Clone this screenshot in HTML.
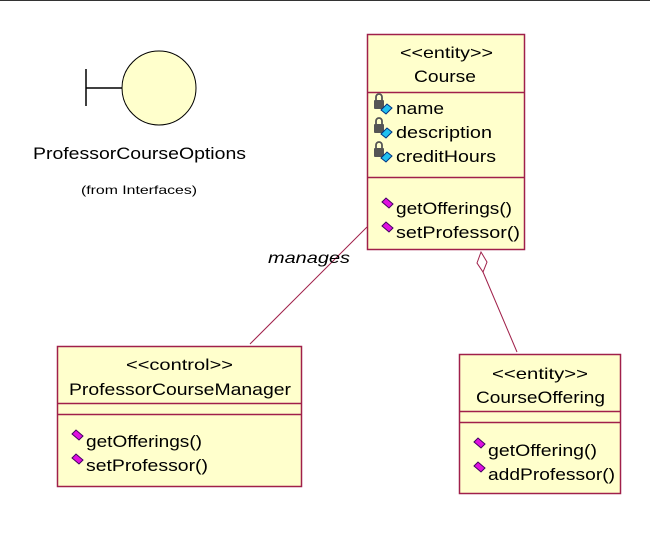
<!DOCTYPE html>
<html><head><style>body{margin:0;background:#fff}svg{display:block}text{font-family:"Liberation Sans",sans-serif;fill:#000}</style></head><body>
<svg width="650" height="554" viewBox="0 0 650 554" xmlns="http://www.w3.org/2000/svg">
<defs>
<g id="op"><path d="M0,-5 L4,-9 L11,-3 L7,1 Z" fill="#e010e0" stroke="#400060" stroke-width="1"/></g>
<g id="at"><rect x="0" y="-13" width="10" height="9" fill="#555" rx="1"/><path d="M2,-13 v-3 a3,3 0 0 1 6,0 v3" fill="none" stroke="#555" stroke-width="1.8"/><path d="M7,-3 L13,-9 L18,-5 L12,1 Z" fill="#20c0f0" stroke="#003080" stroke-width="1"/></g>
</defs>
<line x1="0" y1="0.5" x2="650" y2="0.5" stroke="#333" stroke-width="1"/>
<line x1="86" y1="69" x2="86" y2="106" stroke="#000" stroke-width="1.5"/>
<line x1="86" y1="88" x2="122" y2="88" stroke="#000" stroke-width="1.5"/>
<circle cx="159" cy="88" r="37" fill="#ffffcc" stroke="#000" stroke-width="1"/>
<text x="33" y="159" font-size="17" textLength="213" lengthAdjust="spacingAndGlyphs">ProfessorCourseOptions</text>
<text x="81" y="194" font-size="12" textLength="116" lengthAdjust="spacingAndGlyphs">(from Interfaces)</text>
<line x1="367" y1="227" x2="250" y2="344" stroke="#a0204a" stroke-width="1"/>
<text x="268" y="263" font-size="16" font-style="italic" textLength="82" lengthAdjust="spacingAndGlyphs">manages</text>
<path d="M481,252 L477,263 L483,272 L487,262 Z" fill="#fff" stroke="#a0204a" stroke-width="1"/>
<line x1="483" y1="272" x2="517" y2="352" stroke="#a0204a" stroke-width="1"/>
<rect x="367.5" y="34.5" width="157" height="215" fill="#ffffcc" stroke="#a0204a" stroke-width="1.5"/>
<line x1="367" y1="92.5" x2="525" y2="92.5" stroke="#a0204a" stroke-width="1.5"/>
<line x1="367" y1="177.5" x2="525" y2="177.5" stroke="#a0204a" stroke-width="1.5"/>
<text x="400" y="58" font-size="16" textLength="93" lengthAdjust="spacingAndGlyphs">&lt;&lt;entity&gt;&gt;</text>
<text x="414" y="82" font-size="17" textLength="62" lengthAdjust="spacingAndGlyphs">Course</text>
<use href="#at" x="374" y="113"/><text x="396" y="114" font-size="17" textLength="48" lengthAdjust="spacingAndGlyphs">name</text>
<use href="#at" x="374" y="137"/><text x="396" y="138" font-size="17" textLength="96" lengthAdjust="spacingAndGlyphs">description</text>
<use href="#at" x="374" y="161"/><text x="396" y="162" font-size="17" textLength="100" lengthAdjust="spacingAndGlyphs">creditHours</text>
<use href="#op" x="382" y="207"/><text x="396" y="214" font-size="17" textLength="116" lengthAdjust="spacingAndGlyphs">getOfferings()</text>
<use href="#op" x="382" y="231"/><text x="396" y="238" font-size="17" textLength="124" lengthAdjust="spacingAndGlyphs">setProfessor()</text>
<rect x="57.5" y="346.5" width="244" height="140" fill="#ffffcc" stroke="#a0204a" stroke-width="1.5"/>
<line x1="57" y1="403.5" x2="301" y2="403.5" stroke="#a0204a" stroke-width="1.5"/>
<line x1="57" y1="414.5" x2="301" y2="414.5" stroke="#a0204a" stroke-width="1.5"/>
<text x="126" y="370" font-size="16" textLength="107" lengthAdjust="spacingAndGlyphs">&lt;&lt;control&gt;&gt;</text>
<text x="69" y="395" font-size="17" textLength="222" lengthAdjust="spacingAndGlyphs">ProfessorCourseManager</text>
<use href="#op" x="72" y="439"/><text x="86" y="447" font-size="17" textLength="116" lengthAdjust="spacingAndGlyphs">getOfferings()</text>
<use href="#op" x="72" y="463"/><text x="86" y="471" font-size="17" textLength="122" lengthAdjust="spacingAndGlyphs">setProfessor()</text>
<rect x="459.5" y="354.5" width="161" height="139" fill="#ffffcc" stroke="#a0204a" stroke-width="1.5"/>
<line x1="459" y1="411.5" x2="621" y2="411.5" stroke="#a0204a" stroke-width="1.5"/>
<line x1="459" y1="422.5" x2="621" y2="422.5" stroke="#a0204a" stroke-width="1.5"/>
<text x="492" y="379" font-size="16" textLength="96" lengthAdjust="spacingAndGlyphs">&lt;&lt;entity&gt;&gt;</text>
<text x="476" y="403" font-size="17" textLength="129" lengthAdjust="spacingAndGlyphs">CourseOffering</text>
<use href="#op" x="474" y="447"/><text x="488" y="456" font-size="17" textLength="109" lengthAdjust="spacingAndGlyphs">getOffering()</text>
<use href="#op" x="474" y="471"/><text x="488" y="480" font-size="17" textLength="127" lengthAdjust="spacingAndGlyphs">addProfessor()</text>
</svg>
</body></html>
